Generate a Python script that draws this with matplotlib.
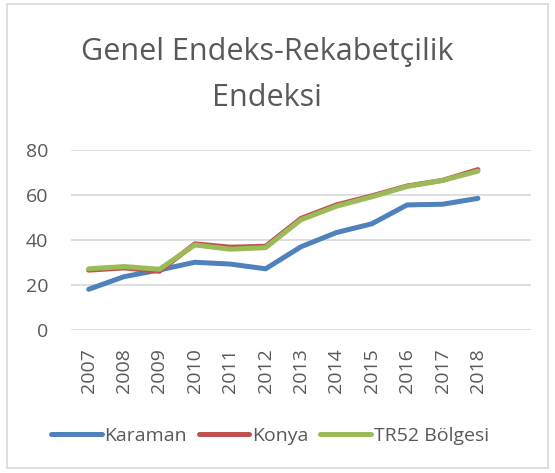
import numpy as np
import matplotlib.pyplot as plt
from matplotlib.patches import Rectangle

years = ['2007', '2008', '2009', '2010', '2011', '2012',
         '2013', '2014', '2015', '2016', '2017', '2018']
karaman = [18.1, 23.7, 26.7, 30.1, 29.3, 27.2, 37.0, 43.3, 47.2, 55.6, 55.9, 58.5]
konya = [26.6, 27.6, 26.1, 38.3, 36.8, 37.2, 49.6, 55.6, 59.6, 64.0, 66.5, 71.3]
tr52 = [27.2, 28.2, 27.0, 37.8, 35.9, 36.6, 49.0, 55.0, 59.2, 63.8, 66.5, 70.6]

W, H = 555, 473
fig = plt.figure(figsize=(W / 100, H / 100), dpi=100)
plt.rcParams['font.family'] = ['Open Sans', 'DejaVu Sans']
txt = '#595959'

# chart border
fig.patches.append(Rectangle((7 / W, 1 - 468 / H), 541 / W, 464 / H,
                             transform=fig.transFigure, fill=False,
                             edgecolor='#D9D9D9', linewidth=1.2))

ax = fig.add_axes([71 / W, 1 - 330 / H, 460 / W, 180 / H])
x = np.arange(len(years))
ax.plot(x, karaman, color='#4F81BD', lw=3.6, solid_capstyle='round', label='Karaman')
ax.plot(x, konya, color='#C0504D', lw=3.6, solid_capstyle='round', label='Konya')
ax.plot(x, tr52, color='#9BBB59', lw=3.6, solid_capstyle='round', label='TR52 Bölgesi')

ax.set_xlim(-0.5, 12.5)
ax.set_ylim(0, 80)
ax.set_yticks([0, 20, 40, 60, 80])
ax.set_xticks(x)
ax.set_xticklabels(years, rotation=90)
ax.grid(axis='y', color='#D9D9D9', lw=1.2)
ax.set_axisbelow(True)
for s in ax.spines.values():
    s.set_visible(False)
ax.tick_params(length=0, labelsize=14, labelcolor=txt)
ax.tick_params(axis='y', pad=16.5)
ax.tick_params(axis='x', pad=13)

tx = 267 / W
fig.text(tx, 1 - 52 / H, 'Genel Endeks-Rekabetçilik', ha='center', va='center',
         fontsize=22, color=txt)
fig.text(tx, 1 - 98 / H, 'Endeksi', ha='center', va='center',
         fontsize=22, color=txt)

leg = fig.legend(loc='center', bbox_to_anchor=(270 / W, 1 - 436 / H), ncol=3,
                 frameon=False, fontsize=14, handlelength=2.6, handletextpad=0.15,
                 columnspacing=0.6, labelcolor=txt)

fig.savefig('out.png', dpi=100)
